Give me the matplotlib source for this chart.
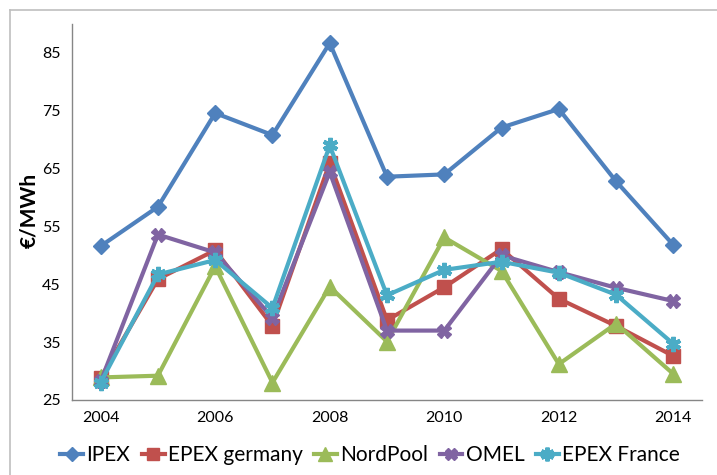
import matplotlib
matplotlib.use("Agg")
import matplotlib.pyplot as plt
from matplotlib.lines import Line2D

years = [2004, 2005, 2006, 2007, 2008, 2009, 2010, 2011, 2012, 2013, 2014]
ipex = [51.6, 58.4, 74.6, 70.8, 86.7, 63.6, 64.0, 72.1, 75.3, 62.8, 51.8]
epex_germany = [28.8, 45.9, 50.9, 37.8, 66.0, 38.8, 44.5, 51.1, 42.5, 37.8, 32.6]
nordpool = [28.9, 29.2, 48.1, 28.0, 44.6, 35.1, 53.1, 47.3, 31.2, 38.2, 29.5]
omel = [28.2, 53.6, 50.5, 39.2, 64.4, 37.0, 37.0, 50.0, 47.1, 44.4, 42.1]
epex_france = [28.0, 46.7, 49.2, 40.9, 69.0, 43.1, 47.5, 48.9, 47.0, 43.2, 34.7]
series_names = ["IPEX", "EPEX germany", "NordPool", "OMEL", "EPEX France"]
yticks = [25, 35, 45, 55, 65, 75, 85]
xticks = [2004, 2006, 2008, 2010, 2012, 2014]

plt.rcParams['font.family'] = ['Lato', 'DejaVu Sans']

fig = plt.figure(figsize=(7.17, 4.75), dpi=100)
ax = fig.add_axes([72/717, 1-400/475, (702-72)/717, (400-24)/475])

colors = ["#4F81BD", "#C0504D", "#9BBB59", "#8064A2", "#4BACC6"]
markers = ["D", "s", "^", "X", (6, 2, 0)]
msizes = [8, 10, 11, 10, 11]
data = [ipex, epex_germany, nordpool, omel, epex_france]
for name, vals, c, m, ms in zip(series_names, data, colors, markers, msizes):
    mew = 3 if m == (6, 2, 0) else 1
    ax.plot(years, vals, color=c, lw=3, marker=m, markersize=ms,
            markerfacecolor=c, markeredgecolor=c, markeredgewidth=mew,
            label=name)

ax.set_xlim(2003.5, 2014.5)
ax.set_ylim(25, 90)
ax.set_yticks(yticks)
ax.set_xticks(xticks)
ax.tick_params(length=0, labelsize=11.5, pad=8)
for s in ["top", "right"]:
    ax.spines[s].set_visible(False)
for s in ["left", "bottom"]:
    ax.spines[s].set_color("#868686")
    ax.spines[s].set_linewidth(1)
ax.set_ylabel("€/MWh", fontsize=15, fontweight="bold")
ax.yaxis.set_label_coords(-0.052, 0.505)

# outer chart border
fig.add_artist(Line2D([10/717, 10/717], [0, 1-10/475], color="#BFBFBF", lw=1.2, transform=fig.transFigure))
fig.add_artist(Line2D([10/717, 1], [1-10/475, 1-10/475], color="#BFBFBF", lw=1.2, transform=fig.transFigure))

leg = fig.legend(loc="center", bbox_to_anchor=(370/717, 1-455/475), ncol=5, frameon=False,
                 fontsize=15, handlelength=1.1, handletextpad=0.15, columnspacing=0.55,
                 markerscale=0.9)

fig.savefig("out.png", dpi=100)
